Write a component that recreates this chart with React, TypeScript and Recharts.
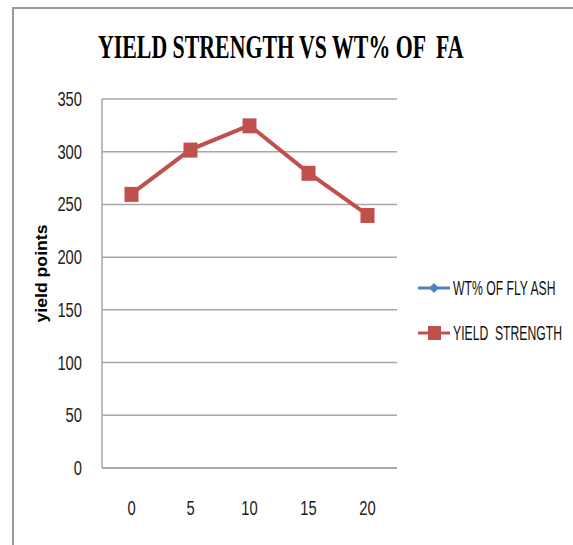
import { LineChart, Line, XAxis, YAxis, CartesianGrid } from 'recharts';

const categories = ['0', '5', '10', '15', '20'];
const yieldStrength = [260, 302, 325, 280, 240];
const yTicks = [0, 50, 100, 150, 200, 250, 300, 350];

const RED = '#C0504D';
const BLUE = '#4F81BD';
const SANS = '"Liberation Sans", Arial, sans-serif';

const data = categories.map((c, i) => ({
  wt: c,
  flyAsh: null as number | null,
  strength: yieldStrength[i],
}));

const legendItems = [
  { label: 'WT% OF FLY ASH', color: BLUE, shape: 'diamond' },
  { label: 'YIELD  STRENGTH', color: RED, shape: 'square' },
];

// narrow tick text, like the condensed font in the original
function NarrowTick(props: any) {
  const { x, y, payload, textAnchor } = props;
  const s = String(payload.value);
  return (
    <text
      x={x}
      y={y}
      dy={7}
      textAnchor={textAnchor}
      fontFamily={SANS}
      fontSize={20}
      fill="#222"
      textLength={s.length * 8.2}
      lengthAdjust="spacingAndGlyphs"
    >
      {s}
    </text>
  );
}

function ChartLegend() {
  return (
    <svg width={155} height={80}>
      {legendItems.map((item, i) => {
        const y = 11 + i * 45;
        return (
          <g key={item.label}>
            <line x1={0} x2={32} y1={y} y2={y} stroke={item.color} strokeWidth={3} />
            {item.shape === 'diamond' ? (
              <polygon
                points={`16,${y - 5} 21,${y} 16,${y + 5} 11,${y}`}
                fill={item.color}
              />
            ) : (
              <rect x={10} y={y - 7} width={13} height={14} fill={item.color} />
            )}
            <g transform={`translate(35, ${y + 7}) scale(0.61, 1)`}>
              <text x={0} y={0} fontFamily={SANS} fontSize={20} fill="#111" style={{ whiteSpace: 'pre' }}>
                {item.label}
              </text>
            </g>
          </g>
        );
      })}
    </svg>
  );
}

export default function App() {
  return (
    <div style={{ position: 'absolute', left: 0, top: 0, width: 573, height: 545, background: '#fff' }}>
      <div
        style={{
          position: 'absolute',
          left: 12,
          top: 7,
          width: 561,
          height: 538,
          borderTop: '2px solid #999',
          borderLeft: '2px solid #999',
        }}
      />
      <svg style={{ position: 'absolute', left: 0, top: 0 }} width={573} height={90}>
        <g transform="translate(98, 58) scale(0.662, 1)">
          <text
            x={0}
            y={0}
            fontFamily='"Liberation Serif", "Times New Roman", serif'
            fontWeight="bold"
            fontSize={33}
            fill="#000"
            style={{ whiteSpace: 'pre' }}
          >
            YIELD STRENGTH VS WT% OF  FA
          </text>
        </g>
      </svg>
      <div style={{ position: 'absolute', left: 0, top: 0 }}>
        <LineChart
          width={573}
          height={545}
          data={data}
          margin={{ top: 99, right: 176, bottom: 0, left: 0 }}
        >
          <CartesianGrid vertical={false} stroke="#A6A6A6" strokeWidth={1.5} />
          <XAxis
            dataKey="wt"
            height={77}
            padding={{ left: 29.5, right: 29.5 }}
            axisLine={{ stroke: '#A6A6A6', strokeWidth: 1.5 }}
            tickLine={false}
            tickMargin={34}
            tick={<NarrowTick />}
          />
          <YAxis
            width={102}
            domain={[0, 350]}
            ticks={yTicks}
            interval={0}
            axisLine={{ stroke: '#A6A6A6', strokeWidth: 1.5 }}
            tickLine={false}
            tickMargin={14}
            tick={<NarrowTick />}
            label={(props: any) => {
              const vb = props.viewBox || {};
              const cy = (vb.y ?? 99) + (vb.height ?? 369) / 2 - 10;
              return (
                <text
                  x={47}
                  y={cy}
                  transform={`rotate(-90, 47, ${cy})`}
                  textAnchor="middle"
                  fontFamily={SANS}
                  fontWeight="bold"
                  fontSize={16}
                  fill="#000"
                  textLength={98}
                  lengthAdjust="spacingAndGlyphs"
                >
                  yield points
                </text>
              );
            }}
          />
          <Line
            dataKey="flyAsh"
            name="WT% OF FLY ASH"
            stroke={BLUE}
            strokeWidth={3}
            isAnimationActive={false}
            dot={false}
          />
          <Line
            dataKey="strength"
            name="YIELD  STRENGTH"
            stroke={RED}
            strokeWidth={4}
            isAnimationActive={false}
            dot={(p: any) => (
              <rect
                key={`sq-${p.index}`}
                x={p.cx - 7}
                y={p.cy - 7}
                width={14}
                height={15}
                fill={RED}
              />
            )}
          />
        </LineChart>
      </div>
      <div style={{ position: 'absolute', left: 418, top: 277 }}>
        <ChartLegend />
      </div>
    </div>
  );
}
